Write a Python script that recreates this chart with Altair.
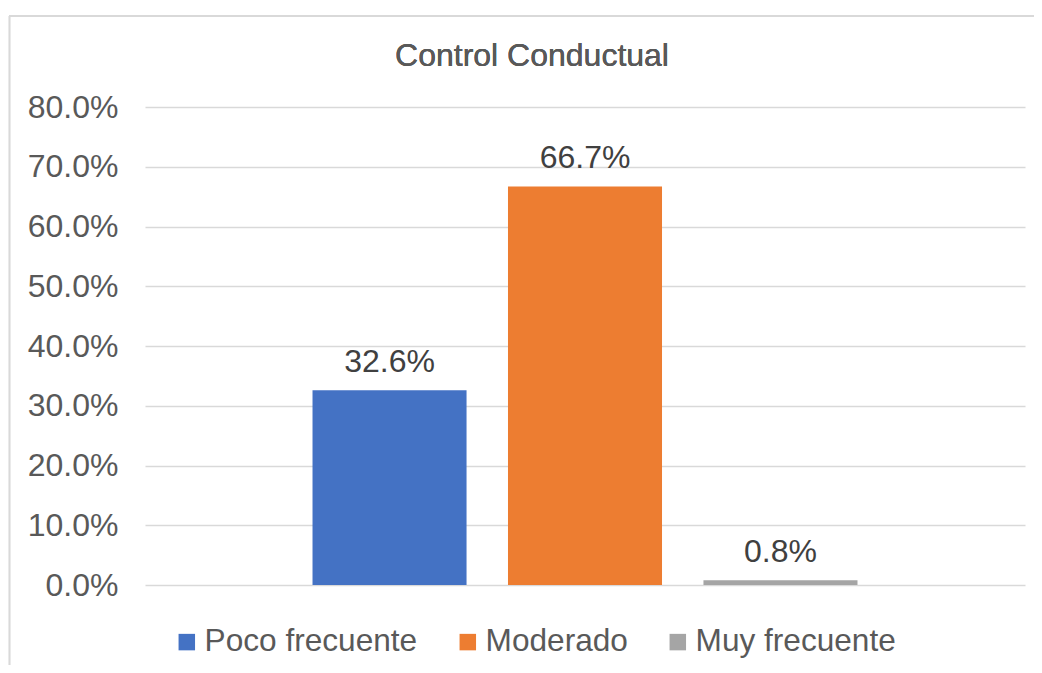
import altair as alt
import pandas as pd

series = ["Poco frecuente", "Moderado", "Muy frecuente"]
values = [0.326, 0.667, 0.008]
colors = ["#4472C4", "#ED7D31", "#A5A5A5"]
y_ticks = [0.0, 0.1, 0.2, 0.3, 0.4, 0.5, 0.6, 0.7, 0.8]
title_text = "Control Conductual"

df = pd.DataFrame({"serie": series, "valor": values})

FONT = "Liberation Sans"

x_enc = alt.X("serie:N", sort=series, axis=None,
              scale=alt.Scale(paddingInner=0.212, paddingOuter=0.857))
y_enc = alt.Y("valor:Q",
              scale=alt.Scale(domain=[0, 0.8], nice=False),
              axis=alt.Axis(values=y_ticks, format=".1%", title=None,
                            ticks=False, domain=False, grid=True,
                            gridColor="#D9D9D9", gridWidth=1.3,
                            labelFont=FONT, labelFontSize=32,
                            labelColor="#595959", labelPadding=27))

bars = alt.Chart(df).mark_bar().encode(
    x=x_enc,
    y=y_enc,
    color=alt.Color("serie:N", sort=series,
                    scale=alt.Scale(domain=series, range=colors),
                    legend=alt.Legend(title=None, orient="none",
                                      legendX=26, legendY=519,
                                      direction="horizontal",
                                      symbolType="square", symbolSize=272,
                                      symbolStrokeWidth=0,
                                      labelOffset=2, columnPadding=34,
                                      labelLimit=500, padding=0,
                                      labelFont=FONT, labelFontSize=31.6,
                                      labelColor="#595959")),
)

labels = alt.Chart(df).mark_text(
    baseline="alphabetic", dy=-18, font=FONT, fontSize=32, color="#404040"
).encode(
    x=alt.X("serie:N", sort=series),
    y="valor:Q",
    text=alt.Text("valor:Q", format=".1%"),
)

title_mark = alt.Chart(df).mark_text(
    baseline="alphabetic", align="center", font=FONT, fontSize=32,
    color="#595959", clip=False
).encode(
    x=alt.value(387), y=alt.value(-41), text=alt.value(title_text)
)

border_left = alt.Chart(df).mark_rule(color="#D9D9D9", strokeWidth=1.5, clip=False).encode(
    x=alt.value(-135.5), y=alt.value(-91), y2=alt.value(700)
)
border_top = alt.Chart(df).mark_rule(color="#D9D9D9", strokeWidth=1.5, clip=False).encode(
    x=alt.value(-136), x2=alt.value(1000), y=alt.value(-91)
)

chart = alt.layer(border_left, border_top, bars, labels, title_mark).properties(
    width=880,
    height=478,
    padding={"left": 137, "top": 99, "right": 9, "bottom": 80},
    autosize=alt.AutoSizeParams(type="none"),
).configure_view(strokeWidth=0)

chart.save("out.html", embed_options={"renderer": "svg", "actions": False})
